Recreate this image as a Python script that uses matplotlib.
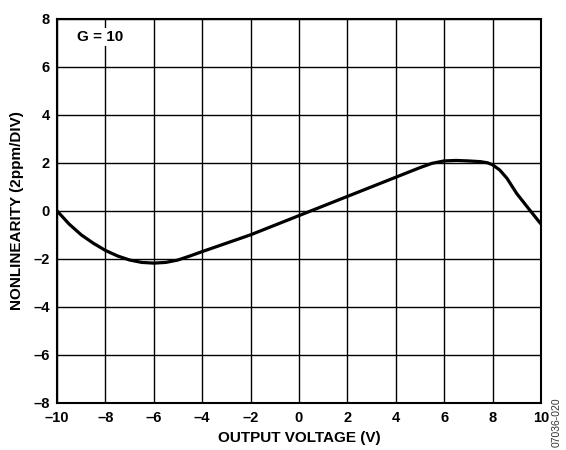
import matplotlib.pyplot as plt
import numpy as np

plt.rcParams["font.family"] = ["Liberation Sans", "DejaVu Sans"]
plt.rcParams["font.weight"] = "bold"

# output voltage (V) vs nonlinearity (2ppm/DIV)
volts = [-10, -9.5, -9, -8.5, -8, -7.5, -7, -6.5, -6, -5.5, -5, -4.5, -4,
         -3, -2, -1, 0, 1, 2, 3, 4, 5, 5.5, 6, 6.5, 7, 7.5, 7.8, 8, 8.3,
         8.6, 9, 9.5, 10]
nonlin = [0.0, -0.55, -1.0, -1.35, -1.65, -1.88, -2.05, -2.15, -2.18, -2.15,
          -2.05, -1.88, -1.7, -1.35, -1.0, -0.6, -0.2, 0.2, 0.6, 1.0, 1.4,
          1.8, 1.98, 2.08, 2.1, 2.08, 2.05, 2.0, 1.92, 1.7, 1.35, 0.72,
          0.08, -0.55]

xticks = np.arange(-10, 11, 2)
yticks = np.arange(-8, 9, 2)

fig = plt.figure(figsize=(5.66, 4.5), dpi=100)
ax = fig.add_axes([0.1007, 0.105, 0.855, 0.853])

ax.plot(volts, nonlin, color="black", linewidth=2.3, solid_capstyle="butt",
        solid_joinstyle="round")

ax.set_xlim(-10, 10)
ax.set_ylim(-8, 8)
ax.set_xticks(xticks)
ax.set_yticks(yticks)
ax.set_xticklabels([str(t).replace("-", "\u2013") for t in xticks])
ax.set_yticklabels([str(t).replace("-", "\u2013") for t in yticks])
ax.tick_params(length=0, labelsize=10.5)
ax.tick_params(axis="x", pad=6)
ax.tick_params(axis="y", pad=5)
for lab in ax.get_xticklabels() + ax.get_yticklabels():
    lab.set_fontweight("bold")

ax.grid(True, color="black", linewidth=1.0)
ax.set_axisbelow(True)
for s in ax.spines.values():
    s.set_linewidth(1.5)

ax.set_xlabel("OUTPUT VOLTAGE (V)", fontsize=11, fontweight="bold", labelpad=4)
ax.set_ylabel("NONLINEARITY (2ppm/DIV)", fontsize=11, fontweight="bold", labelpad=7)

ax.text(-9.17, 7.24, "G = 10", fontsize=11, fontweight="bold", va="center",
        bbox=dict(facecolor="white", edgecolor="none", pad=1.5))

fig.text(0.984, 0.116, "07036-020", rotation=90, fontsize=7.5, fontweight="normal",
         color="#333333", ha="center", va="top")

fig.savefig("out.png", dpi=100)
